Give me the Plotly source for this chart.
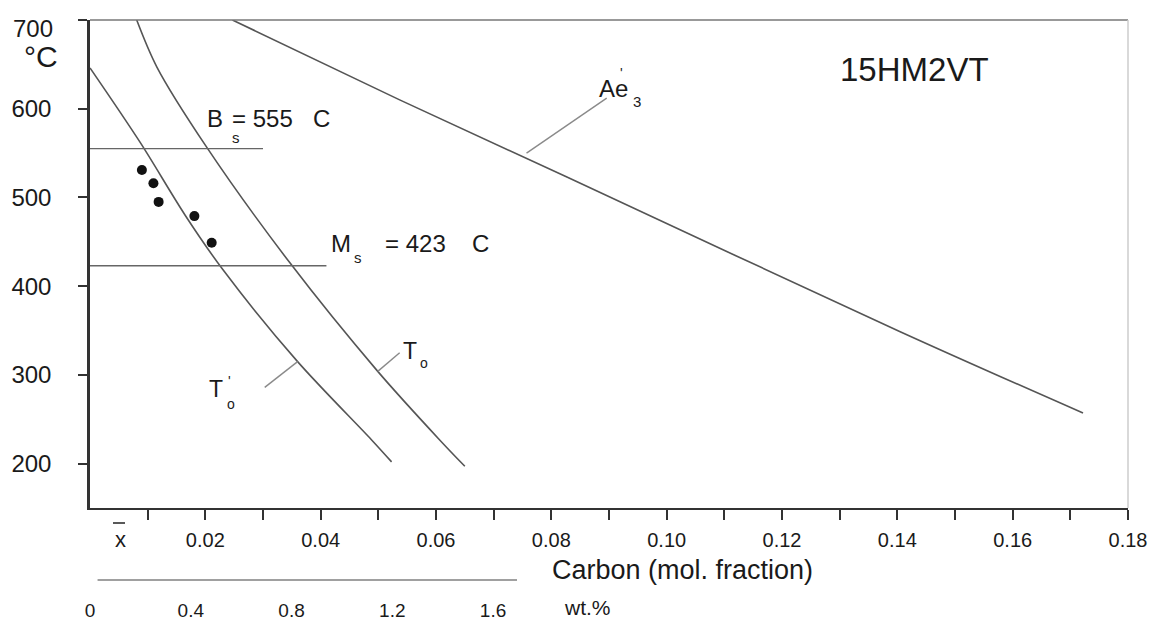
import plotly.graph_objects as go

# ---------------- data ----------------
# T0' curve (left)
t0p_x = [0.0000, 0.0087, 0.0165, 0.0230, 0.0360, 0.0488, 0.0523]
t0p_y = [646, 562, 480, 419, 315, 227, 202]
# T0 curve
t0_x = [0.0081, 0.0116, 0.0202, 0.0347, 0.0499, 0.0606, 0.0650]
t0_y = [700, 647, 557, 426, 304, 227, 197]
# Ae'3 line
ae3_x = [0.0247, 0.0537, 0.0827, 0.1404, 0.1722]
ae3_y = [700, 610, 523, 349, 257]
# measured points
dots_x = [0.0090, 0.0110, 0.0119, 0.0181, 0.0211]
dots_y = [531, 516, 495, 479, 449]
# Bs and Ms levels (deg C) and the x extent of their lines
bs_value = 555
bs_x = [0.0, 0.030]
ms_value = 423
ms_x = [0.0, 0.041]
# leader lines for the curve labels
lead_t0_x, lead_t0_y = [0.0499, 0.0537], [304, 325]
lead_t0p_x, lead_t0p_y = [0.0303, 0.0360], [286, 315]
lead_ae3_x, lead_ae3_y = [0.0757, 0.0896], [550, 612]

# axes ticks
y_ticks = [200, 300, 400, 500, 600, 700]
y_ticklabels = ["200", "300", "400", "500", "600", "700"]
x_ticks = [round(0.01 * i, 2) for i in range(1, 19)]
x_ticklabels = ["", "0.02", "", "0.04", "", "0.06", "", "0.08", "", "0.10",
                "", "0.12", "", "0.14", "", "0.16", "", "0.18"]
wt_ticks = [0, 0.4, 0.8, 1.2, 1.6]
wt_ticklabels = ["0", "0.4", "0.8", "1.2", "1.6"]
wt_line = [0.03, 1.695]

# ---------------- layout helpers ----------------
# The page body has an 8px margin, so the figure is made 8px smaller and
# every reference pixel position is shifted by that offset.
OFF = 8
W, H = 1160 - OFF, 621 - OFF
PLOT_L, PLOT_R, PLOT_T, PLOT_B = 90, 1128, 20, 600   # reference pixels
L, T = PLOT_L - OFF, PLOT_T - OFF
R, B = W - (PLOT_R - OFF), H - (PLOT_B - OFF)
PW, PH = W - L - R, H - T - B


def px(x):
    return (x - PLOT_L) / PW


def py(y):
    return (PLOT_B - y) / PH


y_dom0 = py(508)
wt_pos = py(580)

FONT = "Liberation Sans, Arial, sans-serif"
TXT = "#1a1a1a"
CURVE = "#555555"

fig = go.Figure()

for xs, ys in [(t0p_x, t0p_y), (t0_x, t0_y), (ae3_x, ae3_y)]:
    fig.add_trace(go.Scatter(x=xs, y=ys, mode="lines",
                             line=dict(color=CURVE, width=1.6, shape="spline", smoothing=0.9),
                             hoverinfo="skip"))

fig.add_trace(go.Scatter(x=bs_x, y=[bs_value, bs_value], mode="lines",
                         line=dict(color="#666666", width=1.4), hoverinfo="skip"))
fig.add_trace(go.Scatter(x=ms_x, y=[ms_value, ms_value], mode="lines",
                         line=dict(color="#666666", width=1.4), hoverinfo="skip"))

for xs, ys in [(lead_t0_x, lead_t0_y), (lead_t0p_x, lead_t0p_y), (lead_ae3_x, lead_ae3_y)]:
    fig.add_trace(go.Scatter(x=xs, y=ys, mode="lines",
                             line=dict(color="#8a8a8a", width=1.4), hoverinfo="skip"))

fig.add_trace(go.Scatter(x=dots_x, y=dots_y, mode="markers",
                         marker=dict(color="#111111", size=10, symbol="circle"),
                         hoverinfo="skip"))

# invisible trace so that the wt.% axis is drawn
fig.add_trace(go.Scatter(x=wt_ticks, y=[None] * len(wt_ticks), xaxis="x2", yaxis="y",
                         mode="markers", marker=dict(opacity=0), hoverinfo="skip"))

# the top label ("700") sits a little lower than its tick in the reference,
# so it is drawn as an annotation below
axis_ticktext = y_ticklabels[:-1] + [""]

fig.update_layout(
    width=W, height=H,
    margin=dict(l=L, r=R, t=T, b=B, autoexpand=False),
    paper_bgcolor="white", plot_bgcolor="rgba(0,0,0,0)",
    showlegend=False,
    font=dict(family=FONT, color=TXT),
    xaxis=dict(range=[0, 0.18], domain=[0, 1], anchor="y", automargin=False,
               tickvals=x_ticks, ticktext=x_ticklabels,
               ticks="outside", ticklen=10, tickwidth=1.6, tickcolor="#333",
               showline=True, linecolor="#333", linewidth=2,
               showgrid=False, zeroline=False, ticklabeloverflow="allow",
               tickfont=dict(size=20, color=TXT), ticklabelstandoff=3),
    yaxis=dict(range=[150, 700], domain=[y_dom0, 1], automargin=False,
               tickvals=y_ticks, ticktext=axis_ticktext,
               ticks="outside", ticklen=9, tickwidth=1.6, tickcolor="#333",
               showline=True, linecolor="#333", linewidth=2.5,
               showgrid=False, zeroline=False, ticklabeloverflow="allow",
               tickfont=dict(size=24, color=TXT), ticklabelstandoff=22),
    xaxis2=dict(range=[0, 1.695], domain=[0, px(517)], anchor="free", position=wt_pos,
                automargin=False, ticklabeloverflow="allow",
                tickvals=wt_ticks, ticktext=wt_ticklabels, ticks="",
                showline=False, showgrid=False, zeroline=False,
                tickfont=dict(size=19, color=TXT), ticklabelstandoff=17),
)

shapes = [
    # top frame line
    dict(type="line", xref="paper", yref="paper", x0=0, x1=1, y0=1, y1=1,
         line=dict(color="#777777", width=1.5)),
    # faint right frame line
    dict(type="line", xref="paper", yref="paper", x0=1, x1=1, y0=y_dom0, y1=1,
         line=dict(color="#cccccc", width=1.5)),
    # wt.% scale line
    dict(type="line", xref="x2", yref="paper", x0=wt_line[0], x1=wt_line[1], y0=wt_pos, y1=wt_pos,
         line=dict(color="#a0a0a0", width=2)),
    # overline of x-bar
    dict(type="line", xref="paper", yref="paper", x0=px(113), x1=px(125), y0=py(523), y1=py(523),
         line=dict(color="#222", width=1.5)),
]
fig.update_layout(shapes=shapes)


def ann(text, x, y, size, xanchor="center", yanchor="middle"):
    fig.add_annotation(text=text, x=px(x), y=py(y), xref="paper", yref="paper",
                       showarrow=False, xanchor=xanchor, yanchor=yanchor,
                       font=dict(size=size, color=TXT, family=FONT))


ann(y_ticklabels[-1], 55, 28, 24, xanchor="right")
ann("°C", 41, 56, 30)
ann("15HM2VT", 914, 70, 33)
# Bs label
ann("B", 215, 119, 24)
ann("s", 236, 138, 15)
ann("= 555", 230, 119, 24, xanchor="left")
ann("C", 321, 119, 24)
# Ms label
ann("M", 341, 243, 24)
ann("s", 358, 257, 15)
ann("= 423", 383, 243, 24, xanchor="left")
ann("C", 480, 243, 24)
# T0
ann("T", 410, 351, 23)
ann("o", 424, 363, 14)
# T0'
ann("T", 216, 389, 23)
ann("'", 229, 381, 14)
ann("o", 231, 404, 14)
# Ae'3
ann("Ae", 613, 89, 24)
ann("'", 621, 73, 14)
ann("3", 637, 101, 15)
# x-bar
ann("x", 120, 539, 22)
# axis titles
ann("Carbon (mol. fraction)", 550, 570, 27, xanchor="left")
ann("wt.%", 562, 607, 21, xanchor="left")

fig.write_html("out.html")
